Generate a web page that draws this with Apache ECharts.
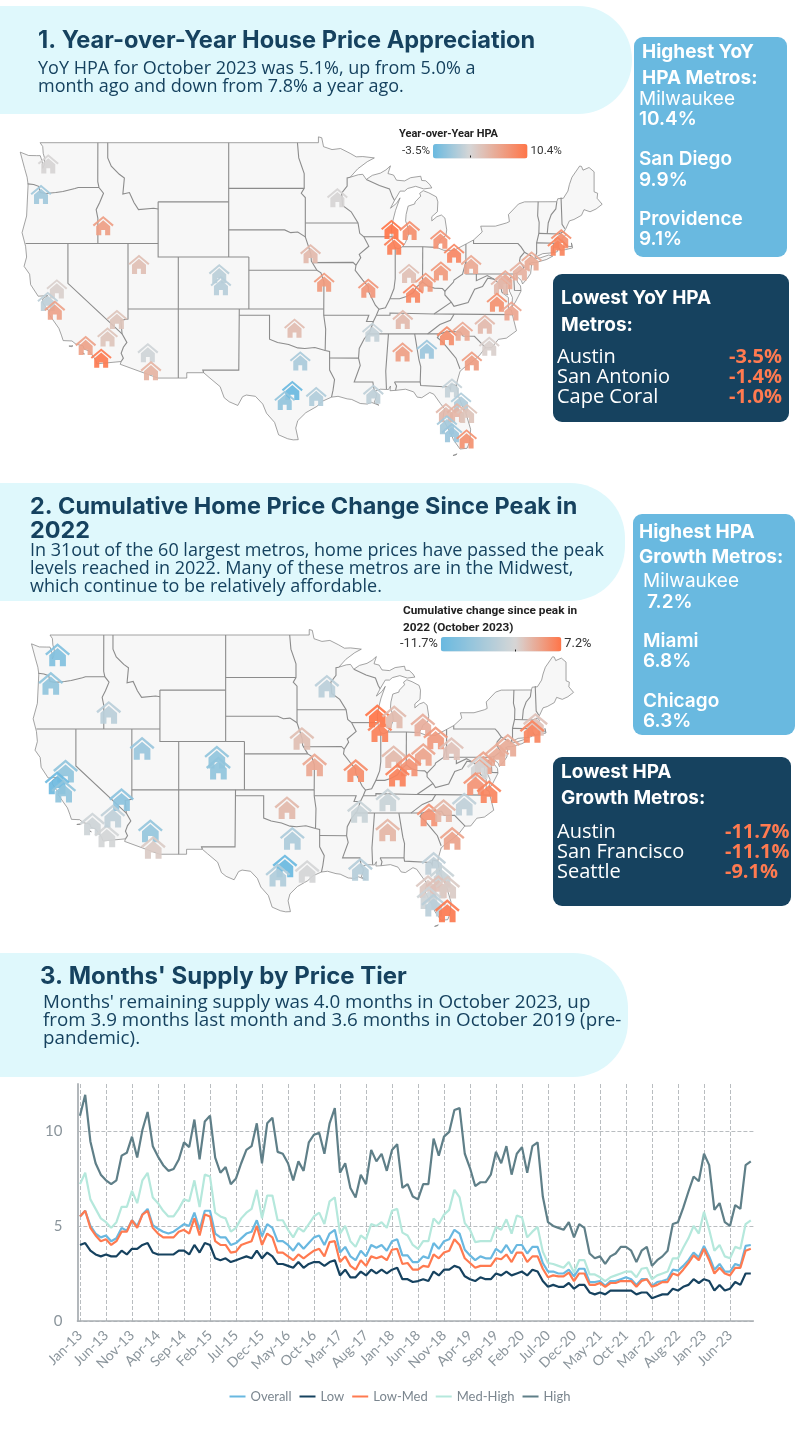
<!DOCTYPE html>
<html>
<head>
<meta charset="utf-8">
<style>html,body{margin:0;padding:0;background:#fff}#chart{width:800px;height:1445px}</style>
<script src="https://cdn.jsdelivr.net/npm/echarts@6/dist/echarts.min.js"></script>
</head>
<body>
<div id="chart"></div>
<script>
const metroNames = ['Seattle','Portland','Boise','Salt Lake City','Denver','Colorado Springs','Omaha','Kansas City','St. Louis','Minneapolis','Milwaukee','Chicago','Grand Rapids','Detroit','Cleveland','Indianapolis','Columbus','Cincinnati','Louisville','Pittsburgh','New York','Boston','Providence','Philadelphia','Baltimore','Washington','Richmond','Virginia Beach','Nashville','Memphis','Birmingham','Greenville','Atlanta','Charlotte','Raleigh','Myrtle Beach','Charleston','Jacksonville','Orlando','Tampa','Lakeland','Palm Bay','Sarasota','Cape Coral','Miami','Austin','San Antonio','Houston','Dallas','Oklahoma City','New Orleans','Las Vegas','Phoenix','Tucson','Los Angeles','San Diego','Riverside','Sacramento','San Francisco','San Jose'];
const metroLon = [-121.95,-122.67,-116.5,-112.95,-104.99,-104.82,-95.93,-94.58,-90.2,-93.27,-87.9,-87.63,-86.1,-83.05,-81.69,-86.16,-83.0,-84.51,-85.76,-80.0,-74.0,-71.06,-71.41,-75.16,-76.61,-77.04,-77.44,-76.0,-86.78,-89.8,-86.8,-82.4,-84.39,-80.84,-78.64,-78.2,-79.93,-81.9,-81.0,-82.5,-81.4,-80.4,-82.4,-81.9,-80.45,-97.74,-98.49,-95.37,-96.95,-97.52,-89.7,-115.14,-112.07,-111.76,-118.24,-116.7,-116.07,-121.1,-122.0,-121.3];
const metroLat = [47.6,45.52,43.3,40.45,39.74,38.83,41.25,39.1,38.63,45.3,43.04,41.88,42.96,42.33,41.3,39.77,39.96,39.1,38.25,40.44,40.71,42.36,41.82,39.95,39.29,38.9,37.54,36.85,36.16,35.15,33.52,34.85,33.75,35.23,35.78,34.0,32.78,30.5,29.3,28.35,28.35,28.3,27.3,26.6,26.05,30.27,29.42,29.76,32.78,35.47,29.95,36.17,33.45,31.95,34.05,33.0,34.75,38.58,37.6,36.9];
const yoyValues = [2.0,-0.7,6.8,4.0,0.5,0.3,4.5,7.2,7.5,2.0,10.4,9.5,8.2,7.8,8.8,4.0,7.3,7.3,8.8,6.0,5.8,8.2,9.1,5.2,6.0,4.5,8.0,6.2,4.5,1.0,6.8,8.2,-1.0,6.0,4.5,2.5,7.0,1.0,0.0,4.5,4.8,3.5,-0.5,-1.0,8.0,-3.5,-1.4,0.0,-0.3,4.2,0.7,3.5,1.5,5.0,6.5,9.9,3.5,2.5,0.7,6.5];
const peakValues = [-9.1,-7.5,-3.0,-6.5,-7.5,-7.5,1.8,3.5,5.5,-3.0,7.2,6.3,2.0,3.0,4.5,2.2,3.8,5.0,6.3,1.5,3.2,1.5,6.0,3.2,3.8,-0.5,5.0,6.0,-1.5,-1.5,2.5,5.0,null,2.5,-2.5,null,3.8,-2.5,-1.5,1.0,1.5,0.8,-1.0,-3.0,6.8,-11.7,-4.0,-0.3,-4.5,2.2,-3.5,-8.0,-7.0,0.8,-1.0,-0.5,-2.5,-7.5,-11.1,-7.5];

const monthNames = ['Jan','Feb','Mar','Apr','May','Jun','Jul','Aug','Sep','Oct','Nov','Dec'];
const tierNames = ['Overall','Low','Low-Med','Med-High','High'];
const tierColors = ['#69B8E0','#16425F','#FF7A50','#B5E8DC','#5F7F88'];
const overall = [5.5,5.8,5.0,4.6,4.4,4.5,4.2,4.35,4.9,4.75,5.3,5.0,5.6,5.9,5.05,4.85,4.7,4.6,4.7,4.9,5.1,5.0,5.7,4.8,5.8,5.8,4.6,4.4,4.4,4.0,4.1,4.35,4.6,4.7,5.3,4.45,5.1,4.9,4.2,4.2,4.0,3.7,4.1,3.8,4.1,4.4,4.5,4.0,4.6,4.8,3.6,3.9,3.4,3.2,3.7,3.4,4.0,3.85,4.0,3.7,4.2,4.3,3.45,3.45,3.1,3.1,3.4,3.3,4.1,3.8,4.2,4.3,4.8,4.6,3.75,3.45,3.2,3.4,3.3,3.3,3.8,3.6,4.0,3.55,4.0,4.0,3.55,3.9,3.9,3.05,2.6,2.6,2.5,2.5,2.7,2.35,2.75,2.75,2.05,2.05,2.1,1.85,2.1,2.1,2.2,2.3,2.2,1.9,2.2,2.2,1.85,2.05,2.1,2.2,2.7,2.65,2.9,3.2,3.6,3.35,3.95,3.4,2.7,3.0,2.6,2.6,3.0,2.9,3.95,4.0];
const lowTier = [4.0,4.1,3.7,3.5,3.4,3.5,3.4,3.4,3.7,3.5,3.8,3.8,4.0,4.1,3.6,3.5,3.5,3.5,3.5,3.7,3.7,3.5,4.0,3.6,4.1,4.0,3.3,3.2,3.3,3.1,3.2,3.3,3.4,3.3,3.7,3.3,3.6,3.4,3.0,3.0,2.9,2.8,3.1,2.8,3.0,3.1,3.1,2.9,3.1,3.2,2.4,2.7,2.3,2.3,2.6,2.4,2.7,2.5,2.7,2.5,2.7,2.8,2.2,2.2,2.05,2.1,2.2,2.1,2.6,2.4,2.7,2.7,2.9,2.8,2.35,2.2,2.1,2.3,2.2,2.2,2.5,2.4,2.6,2.4,2.5,2.6,2.4,2.7,2.6,2.1,1.8,1.9,1.8,1.8,2.0,1.7,1.9,1.9,1.5,1.4,1.5,1.4,1.6,1.6,1.6,1.6,1.6,1.4,1.5,1.5,1.2,1.3,1.4,1.4,1.7,1.6,1.8,1.9,2.2,2.0,2.2,2.1,1.6,1.9,1.6,1.7,2.05,1.9,2.5,2.5];
const lowMedTier = [5.5,5.8,4.9,4.5,4.2,4.3,4.0,4.2,4.7,4.7,5.3,4.9,5.6,5.8,4.9,4.6,4.4,4.4,4.4,4.7,4.8,4.6,5.4,4.5,5.6,5.5,4.2,4.0,4.0,3.6,3.65,4.0,4.1,4.2,5.0,4.0,4.6,4.4,3.6,3.6,3.4,3.2,3.5,3.3,3.5,3.7,3.8,3.4,4.15,4.2,3.1,3.4,2.9,2.7,3.2,2.9,3.4,3.3,3.4,3.2,3.75,3.8,3.0,3.05,2.7,2.7,2.9,2.85,3.5,3.3,3.6,3.7,4.3,4.0,3.3,3.05,2.8,2.9,2.9,2.9,3.3,3.25,3.5,3.1,3.6,3.6,3.1,3.4,3.4,2.75,2.3,2.4,2.35,2.35,2.55,2.1,2.5,2.5,1.9,1.9,2.0,1.8,2.0,2.0,2.1,2.1,2.1,1.8,2.1,2.2,1.8,1.9,2.05,2.05,2.5,2.4,2.7,3.05,3.45,3.2,3.8,3.2,2.5,2.8,2.5,2.4,2.8,2.8,3.7,3.8];
const medHighTier = [7.2,7.8,6.4,5.9,5.4,5.2,4.9,5.2,6.0,6.0,6.85,6.2,7.4,7.8,6.5,6.2,5.8,5.5,5.5,5.9,6.4,6.3,7.4,6.0,7.7,7.6,5.7,5.5,5.4,4.7,4.9,5.4,5.7,5.9,6.9,5.4,6.6,6.6,5.3,5.3,4.8,4.4,4.9,4.7,5.1,5.5,5.7,5.1,6.3,6.5,4.6,5.0,4.2,3.9,4.5,4.3,5.1,5.0,5.2,4.9,5.8,5.9,4.65,4.5,4.0,3.8,4.2,4.2,5.4,5.1,5.6,5.85,6.9,6.5,5.15,4.8,4.15,4.2,4.2,4.2,4.95,4.8,5.35,4.6,5.55,5.45,4.4,4.7,4.95,3.65,3.05,3.0,2.9,2.8,3.1,2.55,3.2,3.2,2.45,2.45,2.3,2.1,2.3,2.4,2.5,2.6,2.6,2.3,2.75,2.8,2.2,2.4,2.5,2.6,3.3,3.3,3.85,4.35,5.0,4.6,5.75,4.8,3.7,4.0,3.4,3.3,3.9,3.8,5.1,5.3];
const highTier = [10.8,11.9,9.45,8.3,7.7,7.4,7.2,7.4,8.7,8.85,9.7,8.6,10.05,11.0,9.2,8.65,8.2,7.9,8.0,8.5,9.4,9.15,10.6,8.5,10.5,10.8,8.6,7.8,8.1,7.2,7.5,8.3,9.0,9.2,10.4,8.3,10.4,10.7,8.9,8.8,8.3,7.4,8.4,7.9,9.4,9.8,9.9,8.8,10.4,11.2,7.8,8.3,7.0,6.5,7.7,7.2,9.0,8.4,8.8,7.9,9.0,9.3,7.0,7.2,6.55,6.4,7.2,7.2,9.6,8.7,9.7,9.95,11.1,11.2,8.8,8.05,7.1,7.3,7.3,7.7,8.9,8.3,9.2,7.7,8.8,9.15,7.8,9.2,9.4,6.55,5.2,5.0,4.9,4.8,5.2,4.4,5.1,4.9,3.55,3.3,3.4,3.0,3.4,3.55,3.9,3.9,3.7,3.1,3.7,3.9,2.9,3.2,3.4,3.7,5.1,5.2,5.95,6.8,7.6,7.35,8.8,8.2,5.85,6.2,5.2,5.0,6.1,5.9,8.2,8.4];
const tierValues = [overall, lowTier, lowMedTier, medHighTier, highTier];

const landOutline = [[-124.73,48.38],[-123.9,48.16],[-123.1,48.15],[-122.75,48.15],[-122.55,47.75],[-122.5,47.3],[-122.35,47.55],[-122.3,47.95],[-122.45,48.3],[-122.5,48.75],[-122.76,49],[-95.15,49],[-95.15,49.38],[-94.82,49.32],[-94.64,48.74],[-93.8,48.55],[-92.95,48.62],[-92,48.3],[-91.4,48.07],[-90.75,48.09],[-89.6,48],[-90.3,47.75],[-91.25,47.27],[-92,46.7],[-91.2,46.87],[-90.75,46.9],[-90.4,46.55],[-89.8,46.83],[-89,46.98],[-88.45,47.2],[-88,47.47],[-88.25,46.95],[-87.7,46.85],[-87.4,46.5],[-86.6,46.45],[-86,46.67],[-85,46.77],[-84.9,46.48],[-84.5,46.46],[-84.1,46.2],[-83.9,45.97],[-84.7,45.9],[-85.5,46.08],[-86.3,45.93],[-86.6,45.75],[-87.05,45.75],[-87.6,45.1],[-88,44.55],[-87.4,44.9],[-87.05,45.28],[-87.5,44.4],[-87.75,43.7],[-87.9,43],[-87.8,42.3],[-87.55,41.7],[-87.2,41.63],[-86.8,41.76],[-86.5,42.1],[-86.2,42.7],[-86.25,43.1],[-86.5,43.65],[-86.45,44.1],[-86.25,44.7],[-85.6,44.85],[-85.55,45],[-85,45.4],[-85.1,45.6],[-84.75,45.78],[-84.2,45.63],[-83.45,45.35],[-83.3,45],[-83.35,44.3],[-83.9,43.95],[-83.9,43.65],[-83.4,43.95],[-82.95,44.07],[-82.6,43.85],[-82.42,43],[-82.5,42.6],[-83.05,42.3],[-83.15,42.05],[-83.45,41.72],[-82.7,41.5],[-81.7,41.5],[-80.5,41.97],[-79.75,42.27],[-78.9,42.85],[-79.05,43.27],[-77.6,43.27],[-76.5,43.5],[-76.2,43.6],[-76.3,44.1],[-75.3,44.85],[-74.7,45],[-71.5,45.01],[-71.4,45.22],[-70.85,45.25],[-70.4,45.75],[-70.25,46.2],[-70,46.7],[-69.23,47.46],[-69.05,47.43],[-68.9,47.18],[-68.3,47.36],[-67.8,47.07],[-67.8,45.7],[-67.45,45.6],[-67.5,45.25],[-67,44.83],[-67.6,44.5],[-68.2,44.3],[-68.8,44.45],[-69.05,44.05],[-69.8,43.75],[-70.25,43.65],[-70.6,43.1],[-70.8,42.85],[-70.6,42.65],[-71,42.35],[-70.65,41.95],[-70.55,41.8],[-70,41.78],[-70.05,42.05],[-69.93,41.68],[-70.65,41.55],[-71.1,41.5],[-71.35,41.72],[-71.45,41.4],[-71.85,41.32],[-72.9,41.25],[-73.65,40.98],[-73.75,40.85],[-73.1,40.95],[-72.3,41.15],[-71.9,41.07],[-72.5,40.82],[-73.6,40.58],[-74,40.58],[-74.25,40.48],[-74,40.4],[-74.1,39.75],[-74.4,39.4],[-74.9,38.95],[-75,39.2],[-75.55,39.6],[-75.4,39.1],[-75.1,38.8],[-75.05,38.4],[-75.6,37.55],[-75.95,37.15],[-75.9,37.9],[-76.2,38.4],[-76.2,39],[-76,39.5],[-76.45,39.2],[-76.5,38.5],[-76.35,38.1],[-76.95,38.3],[-76.3,37.9],[-76.3,37],[-76,36.9],[-75.8,36.2],[-75.5,35.25],[-76.5,34.65],[-77.3,34.55],[-77.95,33.87],[-78.6,33.85],[-79.2,33.2],[-79.9,32.7],[-80.7,32.2],[-81.1,31.9],[-81.4,31],[-81.45,30.7],[-81.3,29.9],[-80.9,29],[-80.55,28.4],[-80.05,26.9],[-80.13,25.8],[-80.4,25.2],[-81.1,25.13],[-81.75,25.95],[-82.05,26.6],[-82.5,27.3],[-82.8,27.85],[-82.65,28.7],[-83.05,29.15],[-83.7,29.95],[-84.1,30.1],[-84.9,29.65],[-85.35,29.7],[-85.7,30.15],[-86.5,30.38],[-87.5,30.28],[-88.05,30.25],[-88,30.65],[-88.2,30.35],[-89,30.38],[-89.6,30.2],[-89.4,30.05],[-89.4,29.75],[-89.6,29.25],[-89.15,29],[-89.9,29.25],[-90.3,29.1],[-91,29.15],[-91.85,29.5],[-92.3,29.55],[-93.2,29.77],[-93.85,29.7],[-94.75,29.35],[-95.3,28.9],[-96.4,28.35],[-97.2,27.65],[-97.4,27],[-97.15,25.97],[-97.65,25.95],[-98.2,26.05],[-99.1,26.4],[-99.5,27.5],[-100.3,28.3],[-100.67,29.1],[-101.4,29.77],[-102.3,29.88],[-102.67,29.74],[-103.15,28.98],[-104,29.3],[-104.5,29.65],[-104.9,30.6],[-106,31.39],[-106.53,31.78],[-108.21,31.78],[-108.21,31.33],[-111.07,31.33],[-114.81,32.49],[-114.72,32.72],[-117.12,32.53],[-117.25,32.85],[-117.9,33.6],[-118.4,33.75],[-118.5,34.03],[-119.2,34.15],[-119.6,34.42],[-120.47,34.45],[-120.65,34.9],[-120.9,35.45],[-121.9,36.6],[-121.8,36.85],[-122.05,36.95],[-122.5,37.5],[-122.5,37.8],[-122,38.05],[-122.95,38],[-123.7,38.9],[-123.8,39.7],[-124.35,40.3],[-124.1,41],[-124.2,41.8],[-124.55,42.8],[-124.1,44],[-123.95,46.2],[-124.05,46.7],[-124.3,47.3],[-124.73,48.38]];
const smallIslands = [[[-119.9,34],[-119.5,34.03],[-119.6,33.95],[-119.9,34]],[[-118.6,33.47],[-118.35,33.35],[-118.5,33.4],[-118.6,33.47]],[[-81.8,24.55],[-81.4,24.7],[-81.5,24.6],[-81.8,24.55]]];
const stateBorders = [
    [[-124,46.25],[-123.4,46.2],[-122.9,46.08],[-122.75,45.65],[-122.2,45.58],[-121.2,45.65],[-120.5,45.72],[-119.3,45.93],[-118.98,46],[-116.92,46]],
    [[-117.03,49],[-117.04,46.4],[-116.92,46],[-116.47,45.6],[-116.85,44.95],[-117.2,44.45],[-117.03,43.83],[-117.03,42]],
    [[-124.2,42],[-111.05,42]],
    [[-120,42],[-120,39],[-114.63,35]],
    [[-114.04,42],[-114.04,36.2],[-114.75,36.1],[-114.63,35],[-114.15,34.3],[-114.5,33.9],[-114.72,33.4],[-114.5,33],[-114.72,32.72]],
    [[-114.04,37],[-94.62,37]],
    [[-111.05,45],[-104.05,45]],
    [[-111.05,45],[-111.05,41],[-102.05,41]],
    [[-109.05,41],[-109.05,31.33]],
    [[-116.05,49],[-116.05,48],[-115.7,47.45],[-114.9,46.9],[-114.4,46.65],[-114.55,45.55],[-113.9,45.65],[-113.45,44.95],[-113,44.45],[-111.5,44.55],[-111.05,44.5]],
    [[-104.05,49],[-104.05,41]],
    [[-104.05,45.94],[-96.56,45.94]],
    [[-104.05,43],[-98.5,43],[-97.9,42.8],[-97.2,42.85],[-96.45,42.49]],
    [[-102.05,41],[-102.05,37]],
    [[-102.05,40],[-95.3,40]],
    [[-103,37],[-103.05,32],[-106.62,32],[-106.53,31.78]],
    [[-103,36.5],[-100,36.5],[-100,34.56],[-99.2,34.3],[-98.1,34.13],[-97.2,33.85],[-96.5,33.8],[-95.5,33.88],[-94.48,33.64],[-94.04,33.55],[-94.04,32],[-93.55,31.2],[-93.7,30.3],[-93.85,29.7]],
    [[-94.62,37],[-94.62,36.5],[-94.43,35.4],[-94.48,33.64]],
    [[-94.04,33.02],[-91.17,33]],
    [[-94.62,36.5],[-90.15,36.5],[-90.38,36],[-89.7,36]],
    [[-95.3,40],[-94.9,39.8],[-94.6,39.1],[-94.62,37]],
    [[-96.45,42.49],[-96.1,41.7],[-95.9,41.2],[-95.85,40.7],[-95.3,40]],
    [[-95.77,40.58],[-91.72,40.6],[-91.42,40.38]],
    [[-96.45,43.5],[-91.22,43.5]],
    [[-97.23,49],[-97.1,48],[-96.56,46.95],[-96.56,45.94],[-96.85,45.6],[-96.45,45.3],[-96.45,42.49]],
    [[-92,46.7],[-92.3,46.66],[-92.3,46.1],[-92.85,45.6],[-92.75,44.75],[-91.9,44.3],[-91.22,43.5],[-91.05,42.75],[-90.64,42.5],[-90.15,41.8],[-91.1,41.2],[-90.95,40.95],[-91.42,40.38],[-91.5,40],[-90.75,39.25],[-90.2,38.75],[-90.2,38.4],[-89.5,37.3],[-89.15,36.98],[-89.4,36.5],[-89.7,36],[-90.05,35.15],[-90.6,34.6],[-91.1,33.8],[-91.17,33],[-91,32.4],[-91.6,31],[-89.75,31],[-89.6,30.2]],
    [[-90.64,42.5],[-87.8,42.5]],
    [[-90.4,46.55],[-89.1,46.13],[-88.1,45.9],[-87.8,45.35],[-87.6,45.1]],
    [[-87.53,41.72],[-87.53,39.35],[-87.65,38.6],[-87.95,38],[-88.05,37.8]],
    [[-89.15,36.98],[-88.5,37.1],[-88.05,37.8],[-87.1,37.8],[-86.5,37.95],[-85.75,38.27],[-85.4,38.73],[-84.82,39.1],[-84.3,38.8],[-83.65,38.63],[-82.85,38.6],[-82.6,38.4],[-81.75,39.1],[-81.7,39.25],[-80.85,39.7],[-80.52,40.64],[-80.52,41.97]],
    [[-84.82,39.1],[-84.8,41.76]],
    [[-86.8,41.76],[-84.8,41.76],[-83.45,41.72]],
    [[-79.76,42.27],[-79.76,42],[-75.35,42],[-75.05,41.75],[-74.7,41.36],[-75.13,40.98],[-75.2,40.7],[-74.75,40.2],[-75.4,39.8],[-75.55,39.6]],
    [[-74.7,41.36],[-73.9,41]],
    [[-80.52,40.64],[-80.52,39.72],[-75.79,39.72]],
    [[-79.48,39.72],[-79.48,39.2],[-78.4,39.6],[-77.72,39.32],[-77.05,38.85],[-76.95,38.3]],
    [[-77.72,39.32],[-78.35,39.4],[-78.87,38.76],[-79.65,38.55],[-80.3,37.5],[-81.7,37.2],[-81.97,37.54],[-82.6,38.1],[-82.6,38.4]],
    [[-81.97,37.54],[-83.68,36.6]],
    [[-89.4,36.5],[-88.05,36.5],[-88.05,36.68],[-83.68,36.6],[-81.68,36.59],[-75.87,36.55]],
    [[-75.79,39.72],[-75.7,38.46],[-75.05,38.45]],
    [[-75.79,39.72],[-75.45,39.8]],
    [[-81.68,36.59],[-82.05,36.1],[-83.1,35.75],[-84.32,34.99]],
    [[-90.3,35],[-83.1,35]],
    [[-83.1,35],[-82.3,35.2],[-81.05,35.15],[-80.8,34.82],[-79.67,34.8],[-78.55,33.86]],
    [[-83.1,35],[-83.35,34.7],[-82.8,34.3],[-82,33.5],[-81.5,33],[-81.1,32.1]],
    [[-85.6,35],[-85.18,32.87],[-85,32.3],[-85.05,31],[-85,30.7],[-82.2,30.57],[-82.05,30.35],[-82,30.8],[-81.45,30.7]],
    [[-87.6,31],[-85.05,31]],
    [[-87.6,31],[-87.4,30.65],[-87.5,30.28]],
    [[-88.2,35],[-88.47,31.9],[-88.4,30.37]],
    [[-73.35,45.01],[-73.4,44],[-73.25,43.55],[-73.28,42.75],[-73.5,42.05],[-73.5,41.3],[-73.65,40.98]],
    [[-71.5,45.01],[-71.6,44.5],[-72.05,44.1],[-72.35,43.5],[-72.45,42.73]],
    [[-73.28,42.75],[-71.3,42.7],[-70.85,42.87]],
    [[-71.08,45.3],[-70.98,43.4],[-70.7,43.08]],
    [[-73.5,42.05],[-71.38,42.02],[-71.35,41.75],[-71.15,41.5]],
    [[-71.8,42.02],[-71.85,41.32]]
];

const headFont = 'Inter';
const bodyFont = '"Open Sans"';
const blue = '#69B9E0';
const navy = '#16425F';
const cyan = '#DFF8FC';
const orange = '#FF7A50';

const toRad = Math.PI / 180;
const merc = (lat) => Math.log(Math.tan(Math.PI / 4 + lat * toRad / 2)) / toRad;
const unmerc = (y) => (2 * Math.atan(Math.exp(y * toRad)) - Math.PI / 2) / toRad;

const monthLabels = [];
for (let y = 13; y <= 23; y++) {
    monthNames.forEach((m, i) => {
        if (y < 23 || i < 10) monthLabels.push(m + '-' + y);
    });
}

const hexToRgb = (hex) => [1, 3, 5].map((i) => parseInt(hex.slice(i, i + 2), 16));
// diverging ramp with its grey centre at a given share of the bar
const ramp = (center) => {
    const low = hexToRgb('#69B9E0');
    const mid = hexToRgb('#D6D6D6');
    const high = hexToRgb('#FF7548');
    const stops = [];
    for (let i = 0; i <= 40; i++) {
        const t = i / 40;
        const a = t < center ? low : mid;
        const b = t < center ? mid : high;
        const f = t < center ? t / center : (t - center) / (1 - center);
        stops.push('rgb(' + a.map((v, k) => Math.round(v + (b[k] - v) * f)).join(',') + ')');
    }
    return stops;
};

echarts.registerMap('us48', {
    type: 'FeatureCollection',
    features: [{
        type: 'Feature',
        properties: { name: 'US' },
        geometry: {
            type: 'MultiPolygon',
            coordinates: [[landOutline]].concat(smallIslands.map((p) => [p]))
        }
    }]
});

const geoBox = (originX, originY, k) => ({
    map: 'us48',
    silent: true,
    roam: false,
    boundingCoords: [[-126, 50], [-65, 24]],
    left: originX + (-126 + 109.05) * k,
    top: originY - (merc(50) - merc(49)) * k,
    width: 61 * k,
    height: (merc(50) - merc(24)) * k,
    projection: {
        project: (p) => [p[0], -merc(p[1])],
        unproject: (p) => [p[0], unmerc(-p[1])]
    },
    label: { show: false },
    itemStyle: { areaColor: '#F7F7F7', borderColor: '#7d7d7d', borderWidth: 0.7 }
});

const housePath = 'path://M12 1 L0 11 L1.5 12.8 L12 3.8 L22.5 12.8 L24 11 Z M4 12.5 L12 5.6 L20 12.5 L20 23 L14.2 23 L14.2 17 L9.8 17 L9.8 23 L4 23 Z';

const borderSeries = (geoIndex) => ({
    type: 'lines',
    coordinateSystem: 'geo',
    geoIndex,
    polyline: true,
    silent: true,
    z: 2,
    lineStyle: { color: '#8c8c8c', width: 1.1, opacity: 1 },
    data: stateBorders.map((c) => ({ coords: c }))
});

const houseSeries = (geoIndex, values, size) => ({
    type: 'scatter',
    coordinateSystem: 'geo',
    geoIndex,
    silent: true,
    z: 3,
    symbol: housePath,
    symbolSize: size,
    symbolKeepAspect: true,
    itemStyle: { opacity: 0.92 },
    data: metroLon.map((lon, i) => ({ name: metroNames[i], value: [lon, metroLat[i], values[i]] }))
        .filter((d) => d.value[2] !== null)
});

const scaleBar = (seriesIndex, left, top, length, min, max, labels, center, fontSize) => ({
    type: 'continuous',
    seriesIndex,
    dimension: 2,
    min,
    max,
    orient: 'horizontal',
    left,
    top,
    itemWidth: 14.5,
    itemHeight: length,
    text: labels,
    textGap: 3,
    calculable: false,
    hoverLink: false,
    inRange: { color: ramp(center) },
    textStyle: { color: '#333', fontFamily: 'Roboto', fontSize }
});

const txt = (x, y, text, font, fill, align) => ({
    type: 'text',
    x,
    y: y + 1,
    z: 5,
    style: { text, font, fill: fill || '#16425F', align: align || 'left', verticalAlign: 'middle' }
});
const box = (x, y, w, h, r, fill) => ({
    type: 'rect',
    z: 1,
    shape: { x, y, width: w, height: h, r },
    style: { fill }
});
const head = (size) => '700 ' + size + 'px ' + headFont;
const body = (size) => '400 ' + size + 'px ' + bodyFont;
const panelHead = head(19);
const panelName = '600 19px ' + headFont;
const panelValue = '700 20px ' + bodyFont;

const pageGraphics = [
    box(0, 6, 632, 108, [0, 55, 55, 0], cyan),
    txt(38, 40, '1. Year-over-Year House Price Appreciation', head(23.6)),
    txt(38, 68, 'YoY HPA for October 2023 was 5.1%, up from 5.0% a', body(18)),
    txt(38, 86, 'month ago and down from 7.8% a year ago.', body(18)),
    txt(399, 133, 'Year-over-Year HPA', '700 11px Roboto', '#222'),
    { type: 'rect', z: 6, shape: { x: 470, y: 155.5, width: 1, height: 2 }, style: { fill: '#222' } },

    box(634, 37, 153, 220, 9, blue),
    txt(642, 51, 'Highest YoY', panelHead, '#fff'),
    txt(642, 77, 'HPA Metros:', panelHead, '#fff'),
    txt(639, 98, 'Milwaukee', '400 19px ' + headFont, '#fff'),
    txt(639, 118, '10.4%', panelName, '#fff'),
    txt(639, 158, 'San Diego', panelName, '#fff'),
    txt(639, 179, '9.9%', panelName, '#fff'),
    txt(639, 218, 'Providence', panelName, '#fff'),
    txt(639, 238, '9.1%', panelName, '#fff'),

    box(553, 274, 236, 148, 9, navy),
    txt(561, 297, 'Lowest YoY HPA', panelHead, '#fff'),
    txt(561, 324, 'Metros:', panelHead, '#fff'),
    txt(557, 356, 'Austin', body(20), '#fff'),
    txt(557, 376, 'San Antonio', body(20), '#fff'),
    txt(557, 396, 'Cape Coral', body(20), '#fff'),
    txt(782, 356, '-3.5%', panelValue, orange, 'right'),
    txt(782, 376, '-1.4%', panelValue, orange, 'right'),
    txt(782, 396, '-1.0%', panelValue, orange, 'right'),

    box(0, 483, 625, 118, [0, 55, 55, 0], cyan),
    txt(30, 506, '2. Cumulative Home Price Change Since Peak in', head(23.4)),
    txt(30, 530, '2022', head(23.4)),
    txt(30, 550, 'In 31out of the 60 largest metros, home prices have passed the peak', body(18)),
    txt(30, 568, 'levels reached in 2022. Many of these metros are in the Midwest,', body(18)),
    txt(30, 586, 'which continue to be relatively affordable.', body(18)),
    txt(403, 610, 'Cumulative change since peak in', '700 11.8px Roboto', '#222'),
    txt(403, 627, '2022 (October 2023)', '700 11.8px Roboto', '#222'),
    { type: 'rect', z: 6, shape: { x: 515, y: 649.5, width: 1, height: 2 }, style: { fill: '#222' } },

    box(633, 514, 162, 221, 9, blue),
    txt(639, 531, 'Highest HPA', panelHead, '#fff'),
    txt(639, 556, 'Growth Metros:', panelHead, '#fff'),
    txt(643, 580, 'Milwaukee', '400 19px ' + headFont, '#fff'),
    txt(647, 601, '7.2%', panelName, '#fff'),
    txt(643, 640, 'Miami', panelName, '#fff'),
    txt(643, 660, '6.8%', panelName, '#fff'),
    txt(643, 700, 'Chicago', panelName, '#fff'),
    txt(643, 720, '6.3%', panelName, '#fff'),

    box(553, 757, 238, 149, 9, navy),
    txt(561, 771, 'Lowest HPA', panelHead, '#fff'),
    txt(561, 797, 'Growth Metros:', panelHead, '#fff'),
    txt(557, 831, 'Austin', body(20), '#fff'),
    txt(557, 851, 'San Francisco', body(20), '#fff'),
    txt(557, 871, 'Seattle', body(20), '#fff'),
    txt(725, 831, '-11.7%', panelValue, orange),
    txt(725, 851, '-11.1%', panelValue, orange),
    txt(725, 871, '-9.1%', panelValue, orange),

    box(0, 953, 628, 124, [0, 55, 55, 0], cyan),
    txt(40, 976, "3. Months' Supply by Price Tier", head(24)),
    txt(43, 1002, "Months' remaining supply was 4.0 months in October 2023, up", body(18.8)),
    txt(43, 1020, 'from 3.9 months last month and 3.6 months in October 2019 (pre-', body(18.8)),
    txt(43, 1038, 'pandemic).', body(18.8))
];

const lineSeries = tierNames.map((name, i) => ({
    name,
    type: 'line',
    xAxisIndex: 0,
    yAxisIndex: 0,
    data: tierValues[i],
    symbol: 'none',
    silent: true,
    z: 3,
    lineStyle: { color: tierColors[i], width: 2.2 },
    itemStyle: { color: tierColors[i] }
}));

const chart = echarts.init(document.getElementById('chart'), null, { renderer: 'canvas', width: 800, height: 1445 });
chart.setOption({
    animation: false,
    backgroundColor: '#fff',
    graphic: { elements: pageGraphics },
    geo: [geoBox(178.3, 142.7, 10.08), geoBox(178.7, 635, 9.39)],
    visualMap: [
        scaleBar(1, 387, 129, 94.5, -3.5, 10.4, ['10.4%', '-3.5%'], 0.39, 11.7),
        scaleBar(3, 385, 622, 120.5, -11.7, 7.2, ['7.2%', '-11.7%'], 0.619, 12.8)
    ],
    grid: { left: 77.4, top: 1084, width: 676, height: 237 },
    xAxis: {
        type: 'category',
        data: monthLabels,
        boundaryGap: true,
        axisLine: { lineStyle: { color: '#a9aeb2', width: 1.5 } },
        axisTick: { show: false },
        axisLabel: { interval: 4, rotate: 45, color: '#8B959C', fontFamily: 'Lato', fontSize: 14, margin: 12 },
        splitLine: { show: true, interval: 4, alignWithLabel: true, lineStyle: { color: '#b9bdc0', type: 'dashed', width: 1 } }
    },
    yAxis: {
        type: 'value',
        min: 0,
        max: 12.47,
        interval: 5,
        axisLine: { show: true, lineStyle: { color: '#b3b8bc', width: 2 } },
        axisTick: { show: false },
        axisLabel: { color: '#8B959C', fontFamily: 'Lato', fontSize: 15, margin: 15, padding: [2, 0, 0, 0], formatter: (v) => (v % 5 === 0 ? v : '') },
        splitLine: { show: true, showMaxLine: false, lineStyle: { color: '#b9bdc0', type: 'dashed', width: 1 } }
    },
    legend: {
        data: tierNames,
        top: 1385,
        left: 'center',
        itemWidth: 16,
        itemHeight: 2,
        itemGap: 8,
        icon: 'rect',
        textStyle: { color: '#7B868F', fontFamily: 'Lato', fontSize: 13 }
    },
    series: [
        borderSeries(0),
        houseSeries(0, yoyValues, 21),
        borderSeries(1),
        houseSeries(1, peakValues, 25)
    ].concat(lineSeries)
});
</script>
</body>
</html>
